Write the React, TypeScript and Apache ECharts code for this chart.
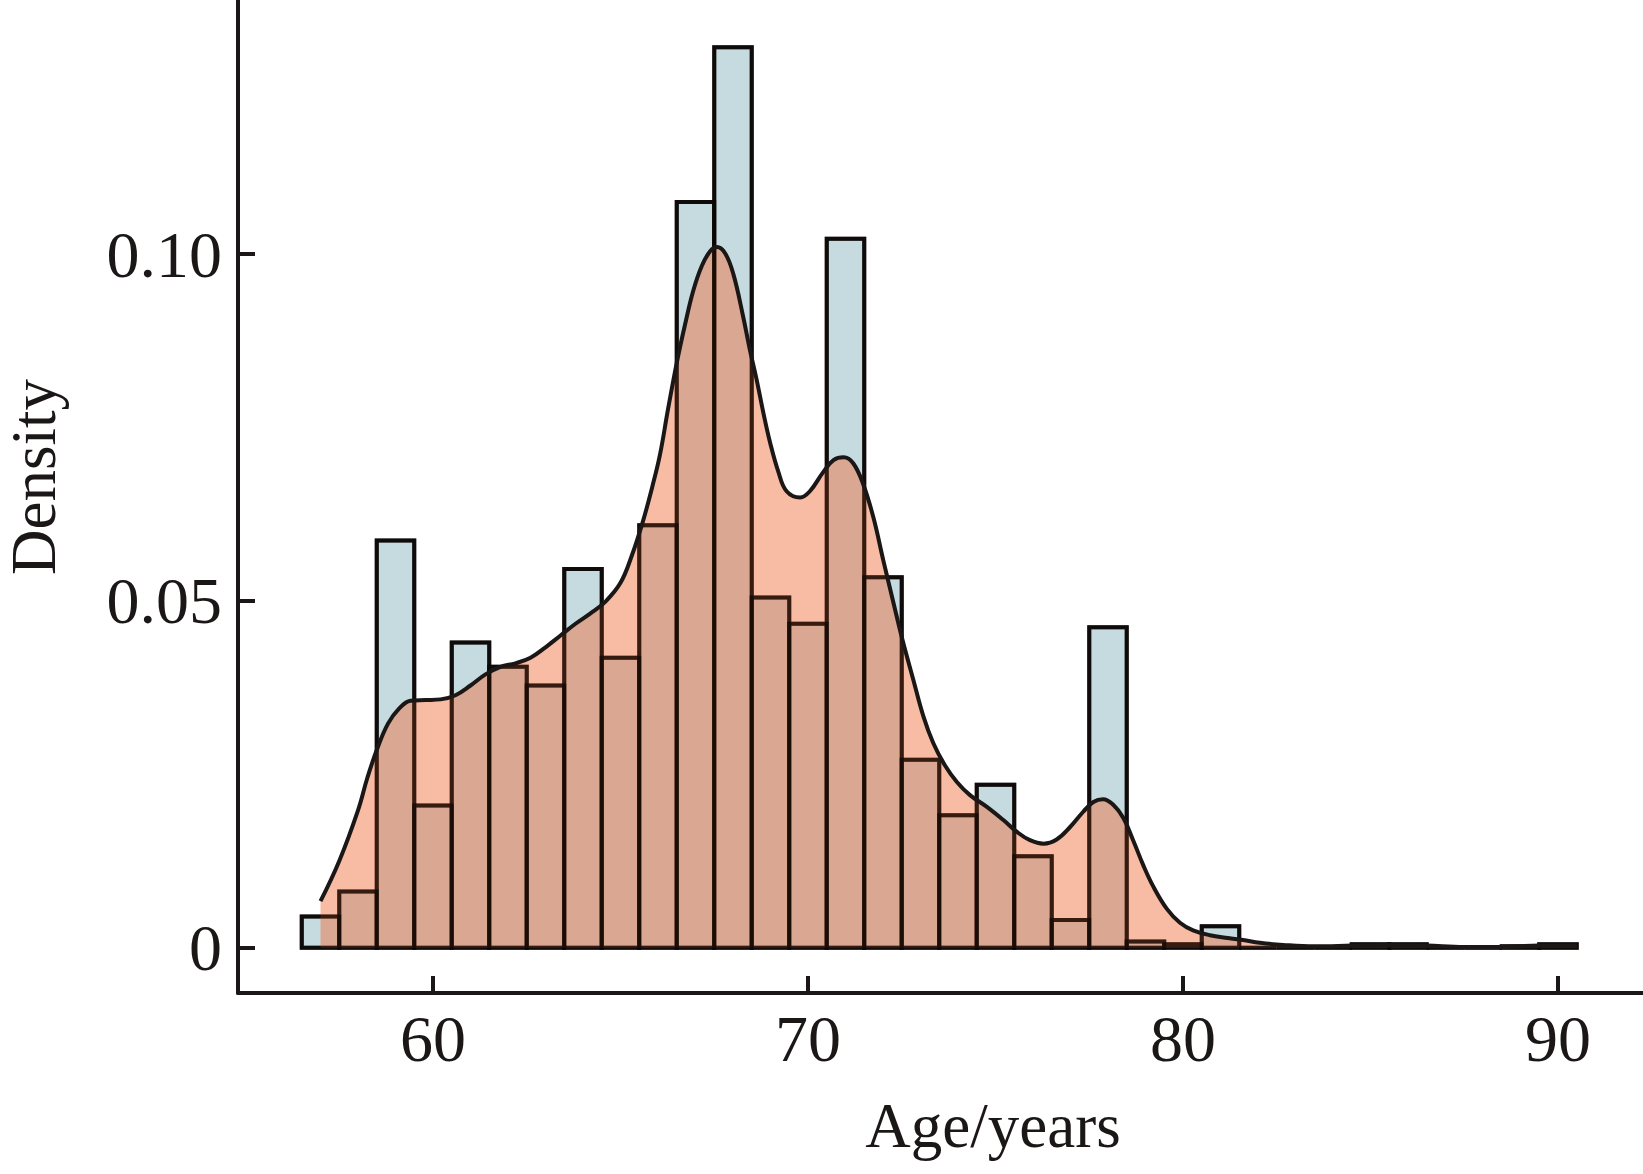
import React, { useEffect, useRef } from "react";
import * as echarts from "echarts";

// Histogram bins (left edges, years) and density heights
const binLefts = [
  56.5, 57.5, 58.5, 59.5, 60.5, 61.5, 62.5, 63.5, 64.5, 65.5, 66.5, 67.5,
  68.5, 69.5, 70.5, 71.5, 72.5, 73.5, 74.5, 75.5, 76.5, 77.5, 78.5, 79.5,
  80.5, 81.5, 82.5, 83.5, 84.5, 85.5, 86.5, 87.5, 88.5, 89.5,
];
const binWidth = 1;
const densities = [
  0.0045, 0.0081, 0.0587, 0.0205, 0.044, 0.0405, 0.0378, 0.0546, 0.0418, 0.0609,
  0.1075, 0.1298, 0.0505, 0.0467, 0.1022, 0.0534, 0.0271, 0.0191, 0.0235, 0.0132,
  0.004, 0.0462, 0.0009, 0.0005, 0.0031, 0, 0, 0, 0.0005, 0.0005, 0, 0, 0.0002,
  0.0005,
];

// Kernel density estimate curve
const kdeX = [
  57.0, 57.5, 58.0, 58.25, 58.5, 58.8, 59.1, 59.4, 59.8, 60.2, 60.6, 61.0, 61.4,
  61.8, 62.2, 62.6, 63.0, 63.4, 63.8, 64.2, 64.6, 65.0, 65.3, 65.6, 65.85, 66.05,
  66.27, 66.5, 66.72, 66.94, 67.17, 67.39, 67.57, 67.79, 68.01, 68.27, 68.45,
  68.63, 68.81, 68.99, 69.21, 69.43, 69.79, 70.05, 70.41, 70.68, 70.95, 71.21,
  71.48, 71.75, 72.01, 72.28, 72.5, 72.81, 73.08, 73.34, 73.65, 73.97, 74.32,
  74.77, 75.21, 75.57, 75.92, 76.28, 76.63, 76.99, 77.34, 77.61, 77.87, 78.14,
  78.41, 78.67, 78.94, 79.21, 79.57, 79.92, 80.27, 80.72, 81.2, 81.6, 82.05,
  82.67, 83.5, 84.5, 85.5, 86.5, 87.5, 88.5, 89.5, 90.5,
];
const kdeY = [
  0.0067, 0.0125, 0.0198, 0.0245, 0.0285, 0.0323, 0.0345, 0.0356, 0.0357, 0.0358,
  0.0364, 0.0378, 0.0394, 0.0405, 0.041, 0.0418, 0.0433, 0.045, 0.0467, 0.0482,
  0.0499, 0.0526, 0.0565, 0.0615, 0.0665, 0.071, 0.0777, 0.0843, 0.0898, 0.0947,
  0.0983, 0.1004, 0.101, 0.1001, 0.0971, 0.091, 0.0862, 0.0819, 0.0771, 0.0728,
  0.0686, 0.0658, 0.0649, 0.0658, 0.0686, 0.0703, 0.0707, 0.0698, 0.0667, 0.0619,
  0.0558, 0.0497, 0.0448, 0.0386, 0.0333, 0.0295, 0.0263, 0.0239, 0.022, 0.0203,
  0.0184, 0.0167, 0.0155, 0.015, 0.0156, 0.0174, 0.0196, 0.021, 0.0214, 0.0206,
  0.0187, 0.0155, 0.0119, 0.0088, 0.0056, 0.0036, 0.0025, 0.0018, 0.0014, 0.0011,
  0.0007, 0.0004, 0.0002, 0.0003, 0.0004, 0.0003, 0.0001, 0.0001, 0.0003, 0.0003,
];

const xTicks = [60, 70, 80, 90];
const yTicks = [0, 0.05, 0.1];
const yTickLabels = ["0", "0.05", "0.10"];
const xName = "Age/years";
const yName = "Density";

export default function App() {
  const ref = useRef<HTMLDivElement>(null);

  useEffect(() => {
    if (!ref.current) return;
    const chart = echarts.init(ref.current, null, { renderer: "svg" });
    const font = "'Liberation Serif', 'Times New Roman', serif";
    const ink = "#1a1716";
    const fsTick = 66;
    const fsName = 63;
    const lw = 4;

    const barData = binLefts.map((l, i) => [l, l + binWidth, densities[i]]);
    const kdeData = kdeX.map((x, i) => [x, kdeY[i]]);

    const makeBar = (fill: string, stroke: string) => (params: any, api: any) => {
      const p0 = api.coord([api.value(0), 0]);
      const p1 = api.coord([api.value(1), api.value(2)]);
      return {
        type: "polygon",
        shape: {
          points: [
            [p0[0], p0[1]],
            [p0[0], p1[1]],
            [p1[0], p1[1]],
            [p1[0], p0[1]],
          ],
        },
        style: { fill, stroke, lineWidth: lw, lineJoin: "miter" },
      };
    };

    chart.setOption({
      animation: false,
      grid: { left: 238, right: 0, top: 0, bottom: 181, containLabel: false },
      xAxis: {
        type: "value",
        min: 54.8,
        max: 92.267,
        axisLine: { show: true, onZero: false, lineStyle: { color: ink, width: lw } },
        axisTick: {
          show: true,
          inside: true,
          length: 17,
          customValues: xTicks,
          lineStyle: { color: ink, width: lw },
        },
        axisLabel: {
          customValues: xTicks,
          margin: 12,
          fontSize: fsTick,
          fontFamily: font,
          color: ink,
          formatter: (v: number) => String(v),
        },
        splitLine: { show: false },
      },
      yAxis: {
        type: "value",
        min: -0.00653,
        max: 0.13662,
        axisLine: { show: true, onZero: false, lineStyle: { color: ink, width: lw } },
        axisTick: {
          show: true,
          inside: true,
          length: 17,
          customValues: yTicks,
          lineStyle: { color: ink, width: lw },
        },
        axisLabel: {
          customValues: yTicks,
          margin: 16,
          fontSize: fsTick,
          fontFamily: font,
          color: ink,
          formatter: (v: number) => {
            const idx = yTicks.findIndex((t) => Math.abs(t - v) < 1e-9);
            return idx >= 0 ? yTickLabels[idx] : "";
          },
        },
        splitLine: { show: false },
      },
      series: [
        {
          type: "custom",
          name: "hist",
          renderItem: makeBar("#c6dbdf", ink),
          data: barData,
          encode: { x: [0, 1], y: 2 },
          z: 1,
        },
        {
          type: "line",
          name: "kde-area",
          data: kdeData,
          smooth: 0.4,
          showSymbol: false,
          symbol: "none",
          lineStyle: { width: 0, opacity: 0 },
          areaStyle: { color: "rgb(240,110,60)", opacity: 0.47 },
          z: 2,
        },
        {
          type: "custom",
          name: "hist-edges",
          renderItem: makeBar("none", "rgba(10,5,4,0.62)"),
          data: barData,
          encode: { x: [0, 1], y: 2 },
          z: 3,
        },
        {
          type: "line",
          name: "kde",
          data: kdeData,
          smooth: 0.4,
          showSymbol: false,
          symbol: "none",
          lineStyle: { color: ink, width: lw },
          z: 4,
        },
      ],
      graphic: [
        {
          type: "text",
          x: 993,
          y: 1126,
          style: {
            text: xName,
            fontSize: fsName,
            fontFamily: font,
            fill: ink,
            align: "center",
            verticalAlign: "middle",
          },
        },
        {
          type: "text",
          x: 34,
          y: 477,
          rotation: Math.PI / 2,
          style: {
            text: yName,
            fontSize: fsName,
            fontFamily: font,
            fill: ink,
            align: "center",
            verticalAlign: "middle",
          },
        },
      ],
    });

    return () => chart.dispose();
  }, []);

  return (
    <div
      ref={ref}
      style={{ position: "absolute", left: 0, top: 0, width: 1643, height: 1174, background: "#fff" }}
    />
  );
}
